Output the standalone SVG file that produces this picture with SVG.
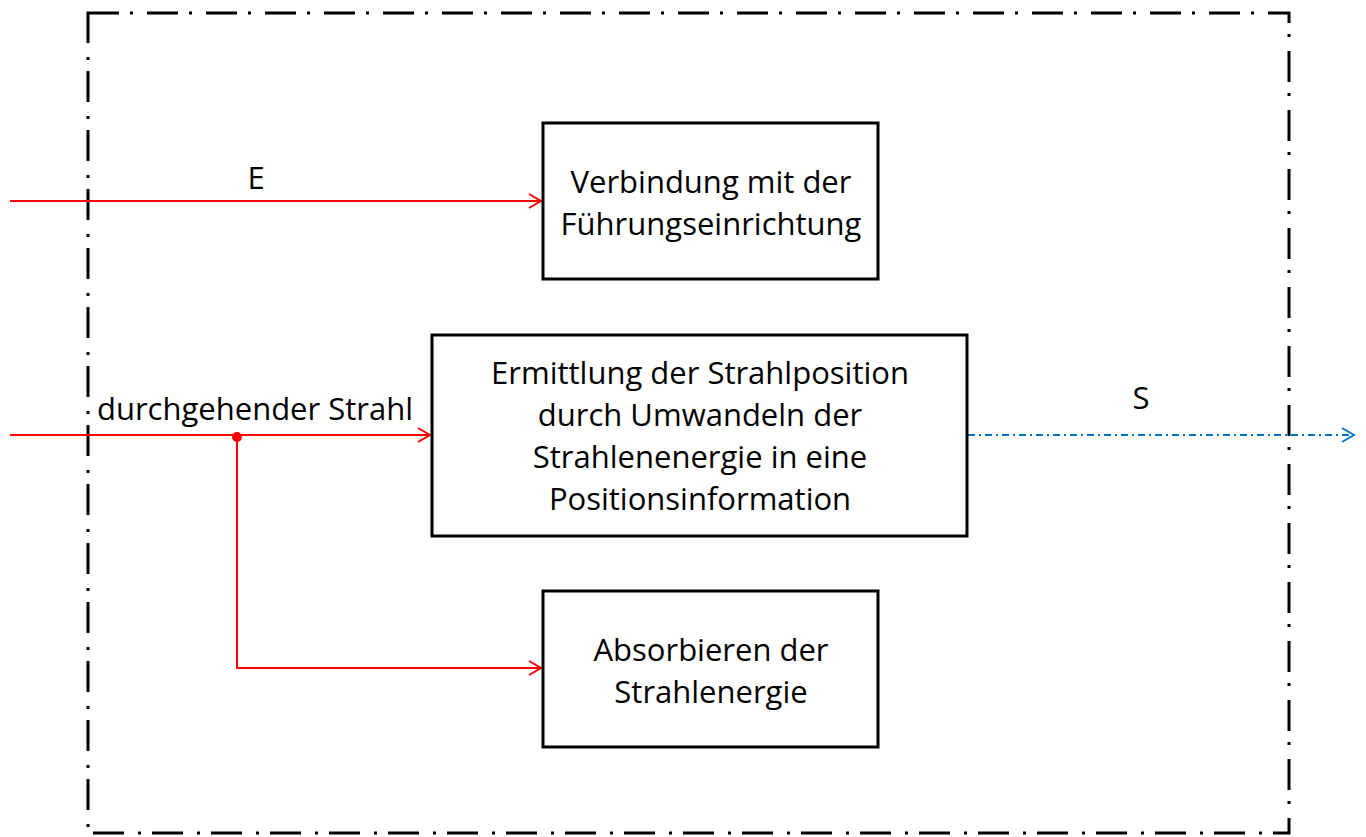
<svg xmlns="http://www.w3.org/2000/svg" width="1366" height="837" viewBox="0 0 1366 837">
<style>
.box{fill:#fff;stroke:#000;stroke-width:3}
.t{font-family:"Open Sans","Liberation Sans",Arial,sans-serif;font-size:31px;fill:#000}
.red{fill:none;stroke:#ff0000;stroke-width:2}
</style>
<defs>
<marker id="ar" markerWidth="16" markerHeight="16" refX="13" refY="8" orient="auto" markerUnits="userSpaceOnUse">
<path d="M1,1 L13,8 L1,15" fill="none" stroke="#ff0000" stroke-width="2"/>
</marker>
<marker id="ab" markerWidth="16" markerHeight="16" refX="13" refY="8" orient="auto" markerUnits="userSpaceOnUse">
<path d="M1,1 L13,8 L1,15" fill="none" stroke="#0070c0" stroke-width="1.8"/>
</marker>
</defs>
<rect width="1366" height="837" fill="#fff"/>
<rect id="border" x="88" y="13" width="1201" height="820" fill="none" stroke="#000" stroke-width="3" stroke-dasharray="31 11 3 14"/>
<g id="connectors">
<line class="red" x1="10" y1="201" x2="541" y2="201" marker-end="url(#ar)"/>
<line class="red" x1="10" y1="435" x2="430" y2="435" marker-end="url(#ar)"/>
<polyline class="red" points="237,437 237,668 541,668" marker-end="url(#ar)"/>
<circle cx="237" cy="437" r="5" fill="#ff0000"/>
<line x1="968" y1="435" x2="1354" y2="435" stroke="#0070c0" stroke-width="1.8" stroke-dasharray="7 4 2 4" marker-end="url(#ab)"/>
<text class="t" x="256" y="189" text-anchor="middle">E</text>
<text class="t" x="255" y="420" text-anchor="middle">durchgehender Strahl</text>
<text class="t" x="1141" y="409" text-anchor="middle">S</text>
</g>
<g id="node1">
<rect class="box" x="543" y="123" width="335" height="156"/>
<text class="t" text-anchor="middle" x="711" y="193">Verbindung mit der</text>
<text class="t" text-anchor="middle" x="711" y="235">Führungseinrichtung</text>
</g>
<g id="node2">
<rect class="box" x="432" y="335" width="535" height="201"/>
<text class="t" text-anchor="middle" x="700" y="384">Ermittlung der Strahlposition</text>
<text class="t" text-anchor="middle" x="700" y="426">durch Umwandeln der</text>
<text class="t" text-anchor="middle" x="700" y="468">Strahlenenergie in eine</text>
<text class="t" text-anchor="middle" x="700" y="510">Positionsinformation</text>
</g>
<g id="node3">
<rect class="box" x="543" y="591" width="335" height="156"/>
<text class="t" text-anchor="middle" x="711" y="661">Absorbieren der</text>
<text class="t" text-anchor="middle" x="711" y="703">Strahlenergie</text>
</g>
</svg>
